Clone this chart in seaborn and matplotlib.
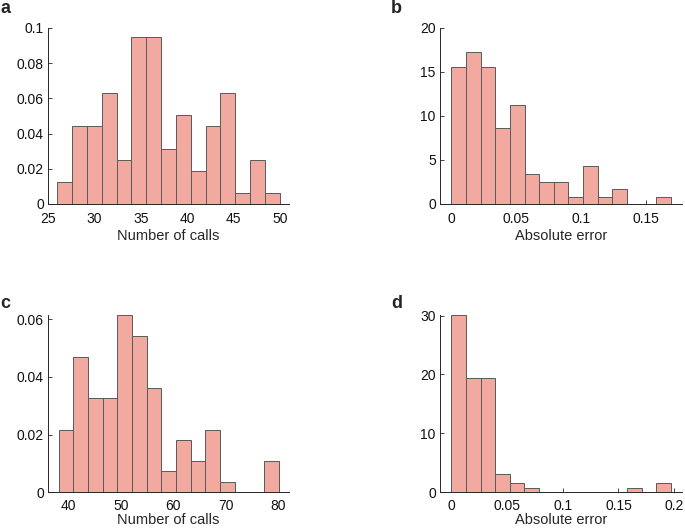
import numpy as np
import matplotlib
matplotlib.use("Agg")
import matplotlib.pyplot as plt
import seaborn as sns

# ---------------- data ----------------
# panel a: number of calls, probability density, 15 bins
calls_a_range = (26.0, 50.0)
calls_a_density = [0.0123, 0.0441, 0.0441, 0.0629, 0.025, 0.0947, 0.0947, 0.0313,
                   0.0506, 0.0188, 0.0441, 0.0629, 0.0061, 0.025, 0.0061]

# panel b: absolute error, density
err_b_range = (0.0, 0.169)
err_b_density = [15.57, 17.27, 15.57, 8.67, 11.25, 3.45, 2.54, 2.54,
                 0.8, 4.28, 0.8, 1.67, 0.0, 0.0, 0.8]

# panel c: number of calls, density
calls_c_range = (38.1, 80.0)
calls_c_density = [0.0216, 0.0468, 0.0327, 0.0327, 0.0614, 0.0541, 0.0362, 0.0073,
                   0.018, 0.0108, 0.0216, 0.0037, 0.0, 0.0, 0.0108]

# panel d: absolute error, density
err_d_range = (0.0, 0.197)
err_d_density = [30.1, 19.36, 19.36, 3.11, 1.53, 0.79, 0.0, 0.0,
                 0.0, 0.0, 0.0, 0.0, 0.79, 0.0, 1.53]

# ---------------- style ----------------
sns.set_style("ticks")
plt.rcParams["font.family"] = ["Liberation Sans", "DejaVu Sans"]
plt.rcParams["font.size"] = 10

FACE = "#F2A99F"
EDGE = "#5a5a5a"
AXC = "#262626"

fig = plt.figure(figsize=(6.85, 5.29), dpi=100)

panels = [
    # letter, rng, heights, rect, xlim, ylim, xticks, xticklabels, yticks, yticklabels, xlabel, letter_y, xpad
    ("a", calls_a_range, calls_a_density, [0.0701, 0.6144, 0.3518, 0.3327], (25, 51), (0, 0.1),
     [25, 30, 35, 40, 45, 50], ["25", "30", "35", "40", "45", "50"],
     [0, 0.02, 0.04, 0.06, 0.08, 0.1], ["0", "0.02", "0.04", "0.06", "0.08", "0.1"],
     "Number of calls", 0.9754, 6),
    ("b", err_b_range, err_b_density, [0.6423, 0.6144, 0.3533, 0.3327], (-0.0087, 0.1775), (0, 20),
     [0, 0.05, 0.1, 0.15], ["0", "0.05", "0.1", "0.15"],
     [0, 5, 10, 15, 20], ["0", "5", "10", "15", "20"],
     "Absolute error", 0.9754, 6),
    ("c", calls_c_range, calls_c_density, [0.0701, 0.0694, 0.3518, 0.3352], (36.1, 82.0), (0, 0.0614),
     [40, 50, 60, 70, 80], ["40", "50", "60", "70", "80"],
     [0, 0.02, 0.04, 0.06], ["0", "0.02", "0.04", "0.06"],
     "Number of calls", 0.4178, 4.5),
    ("d", err_d_range, err_d_density, [0.6423, 0.0694, 0.3533, 0.3352], (-0.0101, 0.207), (0, 30.1),
     [0, 0.05, 0.1, 0.15, 0.2], ["0", "0.05", "0.1", "0.15", "0.2"],
     [0, 10, 20, 30], ["0", "10", "20", "30"],
     "Absolute error", 0.4184, 4.5),
]

for (letter, rng, heights, rect, xlim, ylim, xt, xtl, yt, ytl, xlabel, ly, xpad) in panels:
    ax = fig.add_axes(rect)
    edges = np.linspace(rng[0], rng[1], len(heights) + 1)
    centers = (edges[:-1] + edges[1:]) / 2
    sns.histplot(x=centers, weights=heights, bins=edges.tolist(), ax=ax,
                 color=FACE, alpha=1, edgecolor=EDGE, linewidth=0.7)
    ax.set_xlim(*xlim)
    ax.set_ylim(*ylim)
    ax.set_xticks(xt)
    ax.set_xticklabels(xtl)
    ax.set_yticks(yt)
    ax.set_yticklabels(ytl)
    ax.set_xlabel(xlabel, fontsize=10.5, labelpad=2 if xpad > 5 else 0.5)
    ax.set_ylabel("")
    sns.despine(ax=ax)
    for s in ["left", "bottom"]:
        ax.spines[s].set_color(AXC)
        ax.spines[s].set_linewidth(0.7)
    ax.tick_params(direction="in", length=3, width=0.6, color=AXC,
                   labelsize=10, labelcolor="#111111")
    ax.tick_params(axis="x", pad=xpad)
    ax.tick_params(axis="y", pad=3)
    # panel letter
    x0 = rect[0] - 0.07 if letter in "ac" else rect[0] - 0.0715
    fig.text(x0, ly, letter, fontsize=13, fontweight="bold",
             ha="left", va="baseline")

fig.savefig("out.png", dpi=100)
